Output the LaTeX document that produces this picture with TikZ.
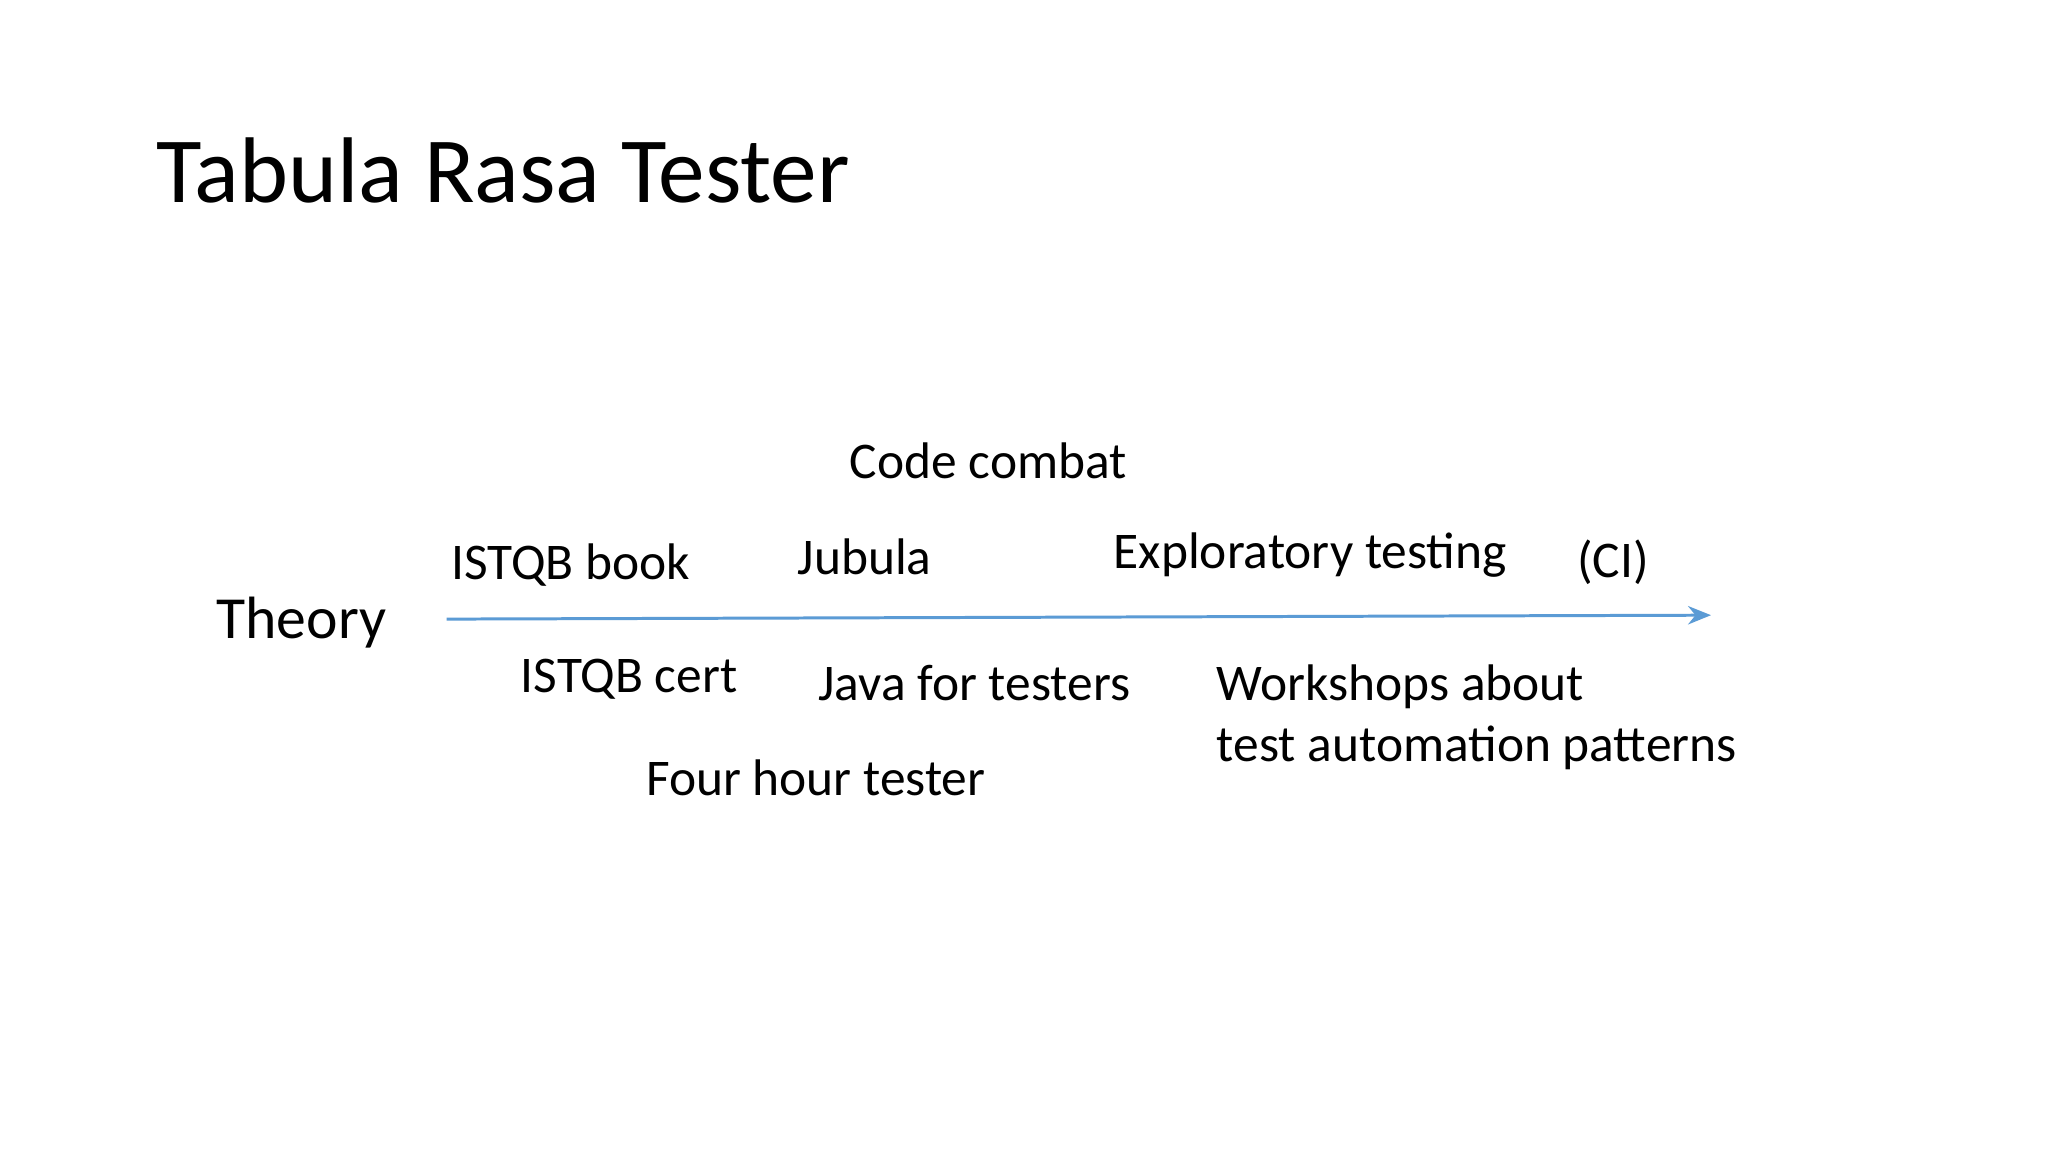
\documentclass[tikz,border=0pt]{standalone}
\usepackage{fontspec}
\setmainfont{Carlito}
\usetikzlibrary{arrows.meta}
\definecolor{axisblue}{RGB}{91,155,213}
\begin{document}
\begin{tikzpicture}[x=0.01cm,y=-0.01cm,
  lbl/.style={anchor=base west,inner sep=0pt,font=\fontsize{11.2}{13.4}\selectfont}]
\useasboundingbox[fill=white] (0,0) rectangle (1568,882);
\node[anchor=base west,inner sep=0pt,font=\fontsize{20.3}{24}\selectfont] (title) at (119,155) {Tabula Rasa Tester};
\node[lbl,font=\fontsize{13}{16}\selectfont] (theory) at (165,489) {Theory};
\coordinate (a0) at (342,474);
\coordinate (a1) at (1310,471);
\draw[axisblue,line width=0.65pt,-{Stealth[length=5pt,width=4pt]}] (a0) -- (a1);
\node[lbl] (cc) at (650,366) {Code combat};
\node[lbl] (ib) at (345,444) {ISTQB book};
\node[lbl] (jub) at (610,440) {Jubula};
\node[lbl] (exp) at (852,435) {Exploratory testing};
\node[lbl] (ci) at (1207,442) {(CI)};
\node[lbl] (ic) at (398,530) {ISTQB cert};
\node[lbl] (java) at (626,536) {Java for testers};
\node[lbl] (ws) at (931,536) {Workshops about};
\node[lbl] (ws2) at (931,583) {test automation patterns};
\node[lbl] (four) at (494,609) {Four hour tester};
\end{tikzpicture}
\end{document}
